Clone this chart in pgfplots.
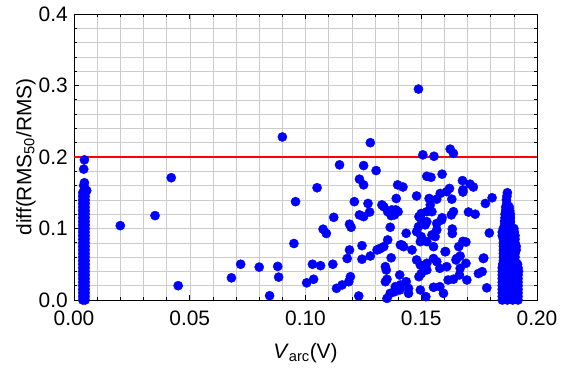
\documentclass[border=0pt]{standalone}
\usepackage{fontspec}
\setmainfont{Liberation Sans}
\usepackage{pgfplots}
\pgfplotsset{compat=1.18}
\begin{document}
\begin{tikzpicture}
\begin{axis}[name=ax, scale only axis, width=463bp, height=286bp,
  xmin=0, xmax=0.2, ymin=0, ymax=0.4,
  xtick={0,0.05,0.1,0.15,0.2}, ytick={0,0.1,0.2,0.3,0.4},
  minor x tick num=4, minor y tick num=4,
  grid=both,
  major grid style={gray!40, line width=0.5bp},
  minor grid style={gray!40, line width=0.5bp},
  tick align=inside, major tick length=5bp, minor tick length=3bp,
  tick style={black, line width=0.6bp},
  scaled ticks=false,
  xticklabel style={/pgf/number format/fixed, /pgf/number format/fixed zerofill, /pgf/number format/precision=2, inner sep=0.5bp, yshift=-10.5bp},
  yticklabel style={/pgf/number format/fixed, /pgf/number format/fixed zerofill, /pgf/number format/precision=1, inner sep=0.5bp, xshift=-5.5bp},
  /pgf/number format/assume math mode=true,
  tick label style={font=\fontsize{21}{23}\selectfont},
  label style={font=\fontsize{21}{23}\selectfont},
  xlabel style={yshift=-13bp},
  ylabel style={yshift=-1bp},
  axis line style={black, line width=0.8bp},
  clip=false,
  xlabel={\textit{V}\textsubscript{arc}(V)},
  ylabel={diff(RMS\textsubscript{50}/RMS)},
]
\addplot[red, line width=2bp] coordinates {(0,0.2) (0.2,0.2)};
\addplot[only marks, mark=*, mark size=4.6bp, mark options={draw=blue, fill=blue}, color=blue] table {
x y
0.0038 0.000
0.0048 0.005
0.0038 0.010
0.0048 0.015
0.0038 0.020
0.0048 0.025
0.0038 0.030
0.0048 0.035
0.0038 0.040
0.0048 0.045
0.0038 0.050
0.0048 0.055
0.0038 0.060
0.0048 0.065
0.0038 0.070
0.0048 0.075
0.0038 0.080
0.0048 0.085
0.0038 0.090
0.0048 0.095
0.0038 0.100
0.0048 0.105
0.0038 0.110
0.0048 0.115
0.0038 0.120
0.0048 0.125
0.0038 0.130
0.0048 0.135
0.0038 0.140
0.0048 0.145
0.0038 0.150
0.0048 0.155
0.0042 0.160
0.0048 0.000
0.0038 0.005
0.0048 0.010
0.0038 0.015
0.0048 0.020
0.0038 0.025
0.0048 0.030
0.0038 0.035
0.0048 0.040
0.0038 0.045
0.0048 0.050
0.0038 0.055
0.0048 0.060
0.0038 0.065
0.0048 0.070
0.0038 0.075
0.0048 0.080
0.0038 0.085
0.0048 0.090
0.0038 0.095
0.0048 0.100
0.0038 0.105
0.0048 0.110
0.0038 0.115
0.0048 0.120
0.0038 0.125
0.0048 0.130
0.0038 0.135
0.0048 0.140
0.0038 0.145
0.0048 0.150
0.0055 0.153
0.0045 0.164
0.0042 0.183
0.0045 0.196
0.020 0.104
0.035 0.118
0.042 0.171
0.045 0.020
0.068 0.031
0.072 0.050
0.080 0.046
0.0845 0.006
0.088 0.047
0.0884 0.032
0.090 0.228
0.095 0.079
0.0957 0.1375
0.1005 0.024
0.1035 0.029
0.103 0.050
0.1065 0.048
0.1147 0.189
0.1251 0.188
0.1305 0.181
0.1507 0.203
0.1555 0.201
0.1625 0.211
0.1639 0.205
0.1488 0.295
0.128 0.220
0.1233 0.169
0.1251 0.161
0.105 0.157
0.1398 0.161
0.1421 0.158
0.1524 0.173
0.1542 0.1716
0.159 0.176
0.1678 0.167
0.1711 0.162
0.1725 0.158
0.1622 0.156
0.168 0.154
0.1211 0.1375
0.127 0.135
0.148 0.1455
0.1392 0.142
0.1534 0.142
0.1582 0.149
0.161 0.1515
0.1632 0.141
0.168 0.151
0.1777 0.135
0.1806 0.143
0.1794 0.0937
0.177 0.0587
0.1747 0.037
0.1763 0.0396
0.1783 0.017
0.1704 0.123
0.1733 0.120
0.1693 0.081
0.1693 0.0513
0.1639 0.1235
0.163 0.119
0.1634 0.0993
0.1634 0.093
0.159 0.115
0.1605 0.0676
0.1662 0.0746
0.165 0.056
0.1668 0.0615
0.1668 0.0443
0.1697 0.028
0.1665 0.035
0.1639 0.029
0.1616 0.028
0.161 0.0466
0.158 0.0443
0.158 0.0186
0.1596 0.0093
0.1553 0.0178
0.152 0.0047
0.1496 0.014
0.149 0.0326
0.150 0.037
0.1524 0.042
0.1496 0.049
0.1524 0.0513
0.148 0.056
0.1553 0.058
0.1567 0.0536
0.146 0.070
0.1424 0.0746
0.141 0.077
0.1435 0.0933
0.1488 0.1025
0.148 0.0955
0.150 0.0886
0.1496 0.0816
0.1524 0.0816
0.1546 0.091
0.156 0.0886
0.1553 0.0746
0.1517 0.105
0.1524 0.1095
0.150 0.112
0.1567 0.107
0.1588 0.112
0.1567 0.098
0.1546 0.1235
0.1524 0.1235
0.150 0.121
0.1539 0.133
0.1567 0.141
0.149 0.1166
0.1366 0.1017
0.137 0.118
0.1338 0.1305
0.1355 0.1235
0.1373 0.126
0.139 0.126
0.1384 0.119
0.140 0.1235
0.1416 0.077
0.1355 0.084
0.1338 0.0746
0.1323 0.072
0.1309 0.070
0.137 0.059
0.1345 0.0466
0.1349 0.042
0.1352 0.029
0.1345 0.0256
0.1407 0.035
0.1388 0.0186
0.141 0.021
0.1435 0.0256
0.1445 0.0163
0.1445 0.0093
0.1366 0.0093
0.1352 0.0023
0.1385 0.0116
0.1407 0.014
0.123 0.0056
0.1194 0.0326
0.1187 0.0256
0.1158 0.021
0.1134 0.0163
0.1118 0.050
0.118 0.058
0.119 0.070
0.1244 0.076
0.1244 0.057
0.128 0.0615
0.1316 0.071
0.1122 0.1156
0.1076 0.099
0.109 0.093
0.119 0.106
0.1197 0.1017
0.1233 0.119
0.1251 0.1166
0.1277 0.123
0.133 0.133
0.168 0.082
0.1603 0.0676
0.1653 0.058
0.1768 0.058
0.1850 0.000
0.1872 0.000
0.1895 0.000
0.1918 0.000
0.1850 0.005
0.1872 0.005
0.1895 0.005
0.1918 0.005
0.1850 0.010
0.1872 0.010
0.1895 0.010
0.1918 0.010
0.1850 0.015
0.1872 0.015
0.1895 0.015
0.1918 0.015
0.1850 0.020
0.1872 0.020
0.1895 0.020
0.1918 0.020
0.1850 0.025
0.1872 0.025
0.1895 0.025
0.1918 0.025
0.1850 0.030
0.1872 0.030
0.1895 0.030
0.1918 0.030
0.1850 0.035
0.1872 0.035
0.1895 0.035
0.1918 0.035
0.1850 0.040
0.1872 0.040
0.1895 0.040
0.1920 0.040
0.1850 0.045
0.1872 0.045
0.1895 0.045
0.1918 0.045
0.1852 0.050
0.1874 0.050
0.1896 0.050
0.1916 0.050
0.1855 0.055
0.1880 0.055
0.1905 0.055
0.1855 0.060
0.1880 0.060
0.1905 0.060
0.1855 0.065
0.1880 0.065
0.1905 0.065
0.1855 0.070
0.1880 0.070
0.1910 0.070
0.1855 0.075
0.1880 0.075
0.1910 0.075
0.1855 0.080
0.1880 0.080
0.1905 0.080
0.1855 0.085
0.1880 0.085
0.1905 0.085
0.1850 0.090
0.1880 0.090
0.1905 0.090
0.1850 0.095
0.1878 0.095
0.1902 0.095
0.1855 0.100
0.1878 0.100
0.1900 0.100
0.1860 0.105
0.1885 0.105
0.1860 0.110
0.1885 0.110
0.1862 0.115
0.1885 0.115
0.1862 0.120
0.1885 0.120
0.1865 0.125
0.1882 0.125
0.1865 0.130
0.1880 0.130
0.1870 0.135
0.1868 0.140
0.1870 0.145
0.1872 0.150
};
\end{axis}
\pgfresetboundingbox
\useasboundingbox ([xshift=-74bp,yshift=-72bp]ax.south west) rectangle ([xshift=24bp,yshift=14bp]ax.north east);
\end{tikzpicture}
\end{document}
